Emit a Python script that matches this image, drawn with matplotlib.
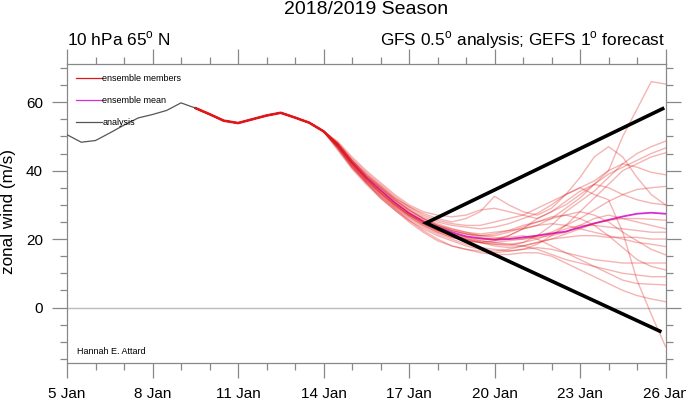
import numpy as np
import matplotlib
matplotlib.use("Agg")
import matplotlib.pyplot as plt

plt.rcParams['font.family'] = 'Liberation Sans'
plt.rcParams['mathtext.fontset'] = 'custom'
plt.rcParams['mathtext.rm'] = 'Liberation Sans'

# x values are days after 5 Jan, 12-hourly
tick_days = [0, 3, 6, 9, 12, 15, 18, 21]
tick_labels = ['5 Jan', '8 Jan', '11 Jan', '14 Jan', '17 Jan', '20 Jan', '23 Jan', '26 Jan']

# analysis 5 Jan 00z .. 9 Jan 12z
ana_days = [0, 0.5, 1, 1.5, 2, 2.5, 3, 3.5, 4, 4.5]
ana_wind = [50.5, 48.3, 48.8, 51.0, 53.3, 55.4, 56.4, 57.6, 59.8, 58.3]

# forecast: common start of all members 9 Jan 12z .. 14 Jan 00z
head_days = [4.5, 5, 5.5, 6, 6.5, 7, 7.5, 8, 8.5, 9]
head_wind = [58.3, 56.5, 54.6, 53.9, 55.0, 56.1, 56.9, 55.5, 54.0, 51.5]

# members after 14 Jan 12z .. 26 Jan 00z
tail_days = [9.5, 10, 10.5, 11, 11.5, 12, 12.5, 13, 13.5, 14, 14.5, 15,
             15.5, 16, 16.5, 17, 17.5, 18, 18.5, 19, 19.5, 20, 20.5, 21]
members = [
    [47.5, 42.5, 38.5, 35, 31.5, 28.5, 26, 24.5, 23, 22, 21.5, 22, 22.5, 23, 24, 26, 29, 32, 36, 40, 50, 58, 66, 65.3],
    [48, 43, 39, 35.5, 32, 29.5, 27.5, 26, 25, 26, 28, 32.5, 30, 28, 27, 29, 33, 38, 44, 47, 44, 38, 33, 30],
    [47, 41.5, 37, 33, 29.5, 26.5, 24, 22, 20.5, 19.5, 19, 18.5, 18, 19, 21, 24, 28, 31, 34, 38, 42, 45, 47, 48.6],
    [47.5, 42, 37.5, 33.5, 30, 27, 25, 23.5, 22.5, 21.5, 20.5, 20, 21, 23, 26, 28, 30, 33, 36, 39, 41, 43, 45, 46.6],
    [46.5, 41, 36.5, 32.5, 29, 26, 23.5, 21.5, 20, 18.5, 17.5, 17, 16.5, 17, 18.5, 21, 24, 28, 32, 36, 40, 42, 44, 45.2],
    [48, 43.5, 39.5, 36, 32.5, 29.5, 27, 25.5, 24.5, 24, 24, 25, 26, 27, 29, 31, 33, 35, 37, 40, 42, 41, 39.5, 38.8],
    [47, 42, 37.5, 34, 30.5, 27.5, 25, 23, 21.5, 20.5, 19.5, 19, 19.5, 20, 21, 22, 24, 26, 28.5, 31, 33, 34.5, 35, 35.4],
    [48.5, 44, 40, 36.5, 33, 30, 28, 27, 26.5, 27, 28.5, 29, 28, 27, 26, 28, 31, 34, 36, 35, 33, 31.5, 30.5, 30],
    [47, 41.5, 37, 33.5, 30, 27, 24.5, 22.5, 21, 20, 19, 18, 17.5, 18, 19, 20, 21.5, 23, 24.5, 25.5, 26, 26, 25.8, 25.5],
    [47.5, 42.5, 38, 34.5, 31, 28, 25.5, 24, 23, 22, 21, 20.5, 20, 20, 20.5, 21, 22, 24, 26, 27, 26, 25, 24, 23],
    [46, 40.5, 36, 32, 28.5, 25.5, 23, 21, 19.5, 18, 17, 16.5, 17, 18, 19, 20, 20.5, 21, 21, 20.5, 20.5, 20.5, 20, 20],
    [47, 41.5, 37, 33, 29.5, 26.5, 24, 22, 20.5, 19.5, 19, 19.5, 21, 23, 24, 24.5, 24, 23, 22, 21, 20, 19, 18.5, 17.8],
    [48, 43, 38.5, 35, 31.5, 28.5, 26, 24, 22.5, 21.5, 21, 21.5, 22.5, 24, 25, 26, 27, 28, 27, 25, 22, 19.5, 17, 15.4],
    [46.5, 41, 36.5, 32.5, 29, 25.5, 22.5, 20, 18, 17, 16.5, 16, 16.5, 17, 17.5, 17, 16, 15, 14, 13.5, 13, 13, 13, 13],
    [47, 42, 37.5, 33.5, 30, 27, 24.5, 22.5, 21, 20, 19.5, 19, 18.5, 18, 17, 15.5, 14, 13, 12, 11, 10, 9.5, 9, 9],
    [47.5, 42.5, 38, 34, 30.5, 27.5, 25, 23, 21.5, 20.5, 20, 20, 20.5, 21, 20, 18, 16, 14, 12, 10, 8, 7, 6.8, 6.6],
    [46.5, 41, 36.5, 32, 28.5, 25, 22, 19.5, 18, 17, 16, 15.5, 15.5, 16, 16, 15, 13, 11, 9, 7, 5, 3.5, 2.5, 1.7],
    [48, 43, 39, 35.5, 32, 29, 26.5, 25, 24, 23.5, 23, 23.5, 24.5, 26, 27.5, 30, 33, 35, 33, 31.5, 22, 8, -2, -11.4],
    [47, 42, 37.5, 33.5, 30, 27, 24.5, 22.5, 21, 20, 19, 18.5, 18.5, 19, 20, 21.5, 23, 24, 24, 23.5, 23, 22.5, 22, 22],
    [48, 43, 38.5, 35, 31.5, 28.5, 26, 24, 22.5, 21.5, 21, 21, 22, 23.5, 25, 26.5, 27, 26, 24, 21, 17.5, 14, 12, 11],
]

# ensemble mean 14 Jan 12z .. 26 Jan
mean_wind = [47.5, 42.3, 38, 34.3, 30.7, 27.6, 25.2, 23.5, 22, 20.8, 20.2, 19.8,
             20.0, 20.5, 21.0, 21.6, 22.2, 23.4, 24.6, 25.6, 26.6, 27.4, 27.7, 27.4]

# hand drawn spread cone
cone_days = [20.9, 12.6, 20.8]
cone_wind = [58.1, 24.7, -6.9]

fig = plt.figure(figsize=(6.86, 4.0), dpi=100)
ax = fig.add_axes([67 / 686, 1 - 363.3 / 400, 598.5 / 686, 299.1 / 400])

ax.axhline(0, color='#bbbbbb', lw=1, zorder=1)

ax.plot(tail_days, mean_wind, color='#d82cd8', lw=1.3, zorder=2, label='ensemble mean')
# tight part of the ensemble looks thick in the original
ax.plot(head_days + tail_days[:1], head_wind + mean_wind[:1], color='#dc1424', lw=1.9,
        alpha=0.9, zorder=2, solid_capstyle='round')
for i, m in enumerate(members):
    ax.plot(head_days + tail_days, head_wind + m, color='#e01818', alpha=0.32, lw=1,
            zorder=3, label='ensemble members' if i == 0 else None)
ax.plot(ana_days, ana_wind, color='#555555', lw=0.9, zorder=3, label='analysis')
ax.plot(cone_days, cone_wind, color='black', lw=2.6, zorder=4, solid_joinstyle='miter')

ax.set_xlim(0, 21)
ax.set_ylim(-16.3, 71.1)
ax.set_xticks(tick_days)
ax.set_xticklabels(tick_labels)
ax.set_xticks(np.arange(0, 22, 1), minor=True)
ax.set_yticks([0, 20, 40, 60])
ax.set_yticks(np.arange(-15, 71, 5), minor=True)

for s in ax.spines.values():
    s.set_color('#888888')
    s.set_linewidth(0.9)
ax.tick_params(which='both', direction='out', color='#888888', top=True, right=True,
               labelsize=11, pad=6.7)
ax.tick_params(which='major', length=10.5, width=0.9)
ax.tick_params(which='minor', length=5, width=0.9)

h, l = ax.get_legend_handles_labels()
order = [l.index('ensemble members'), l.index('ensemble mean'), l.index('analysis')]
leg = ax.legend([h[i] for i in order], [l[i] for i in order], loc='upper left',
                bbox_to_anchor=(0.015, 0.968), frameon=False, fontsize=6.5,
                handlelength=2.9, handletextpad=0.0, labelspacing=1.45,
                borderaxespad=0, borderpad=0)
for lh in leg.get_lines():
    lh.set_alpha(1)
    lh.set_linewidth(0.9)

ax.text(0.017, 0.04, 'Hannah E. Attard', transform=ax.transAxes, fontsize=6.5,
        va='center', ha='left')

fig.text(366 / 686, 1 - 10 / 400, '2018/2019 Season', ha='center', va='center', fontsize=14)
fig.text(67 / 686, 1 - 45 / 400, r'10 hPa 65$^\mathrm{o}$ N', ha='left', va='baseline',
         fontsize=12.4)
fig.text(665 / 686, 1 - 45 / 400, r'GFS 0.5$^\mathrm{o}$ analysis; GEFS 1$^\mathrm{o}$ forecast',
         ha='right', va='baseline', fontsize=12.4)
fig.text(9 / 686, 1 - 211 / 400, 'zonal wind (m/s)', rotation=90, ha='center',
         va='center', fontsize=12.3)

fig.savefig('out.png', dpi=100)
